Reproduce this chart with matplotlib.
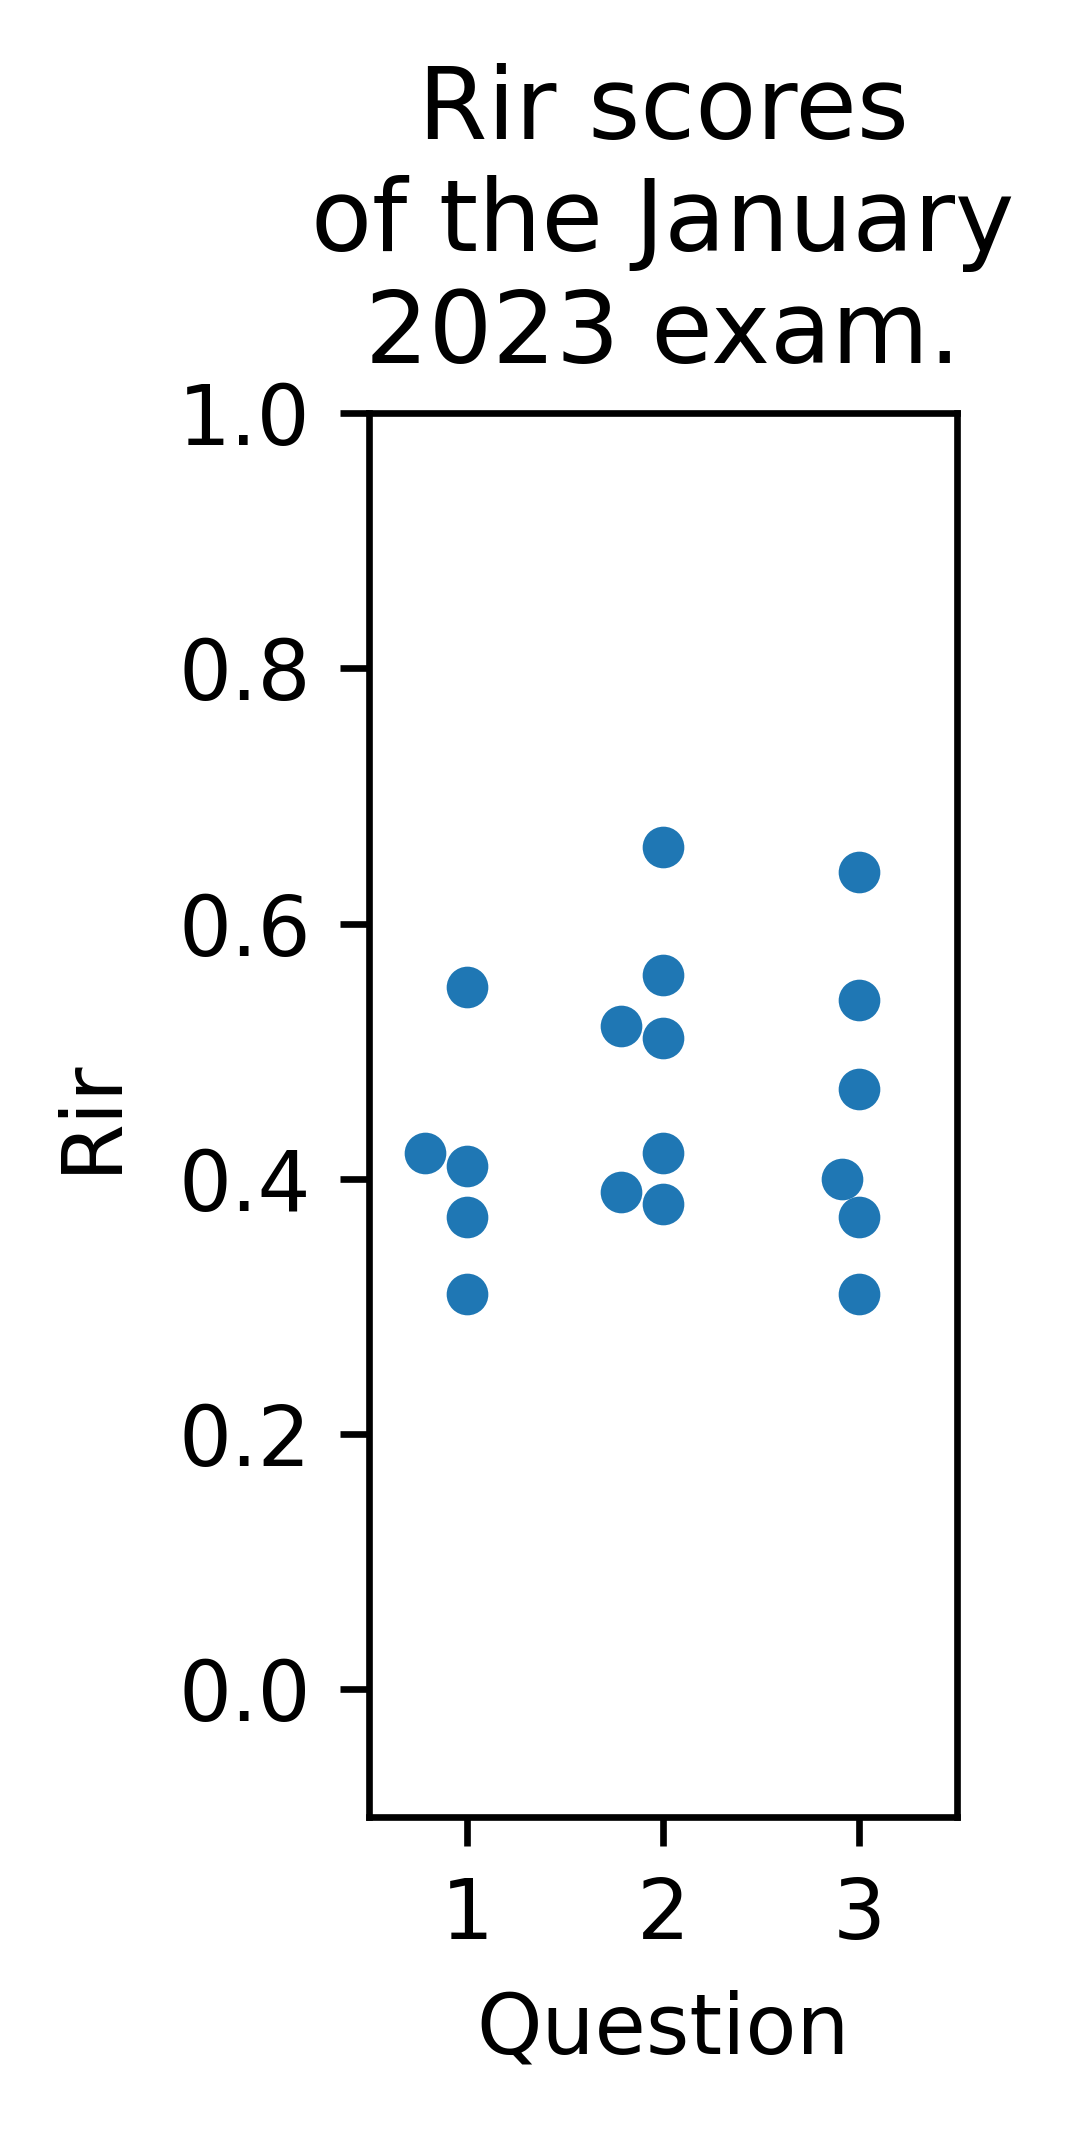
import numpy as np
import pandas as pd
import matplotlib
matplotlib.use("Agg")
import matplotlib.pyplot as plt
import seaborn as sns

# Rir scores per question
q1 = [0.55, 0.42, 0.41, 0.37, 0.31]
q2 = [0.66, 0.56, 0.52, 0.51, 0.42, 0.39, 0.38]
q3 = [0.64, 0.54, 0.47, 0.40, 0.37, 0.31]

questions = [1] * len(q1) + [2] * len(q2) + [3] * len(q3)
rir = q1 + q2 + q3
df = pd.DataFrame({"Question": questions, "Rir": rir})

fig = plt.figure(figsize=(1080 / 600, 2134 / 600), dpi=600)
ax = fig.add_axes([369 / 1080, 1 - 1817 / 2134, 588 / 1080, 1404 / 2134])

sns.swarmplot(data=df, x="Question", y="Rir", ax=ax)

ax.set_ylim(-0.1, 1.0)
ax.set_xlim(-0.5, 2.5)
ax.set_ylabel("Rir", labelpad=5.6)
ax.set_title("Rir scores\nof the January\n2023 exam.")

fig.savefig("out.png", dpi=600)
